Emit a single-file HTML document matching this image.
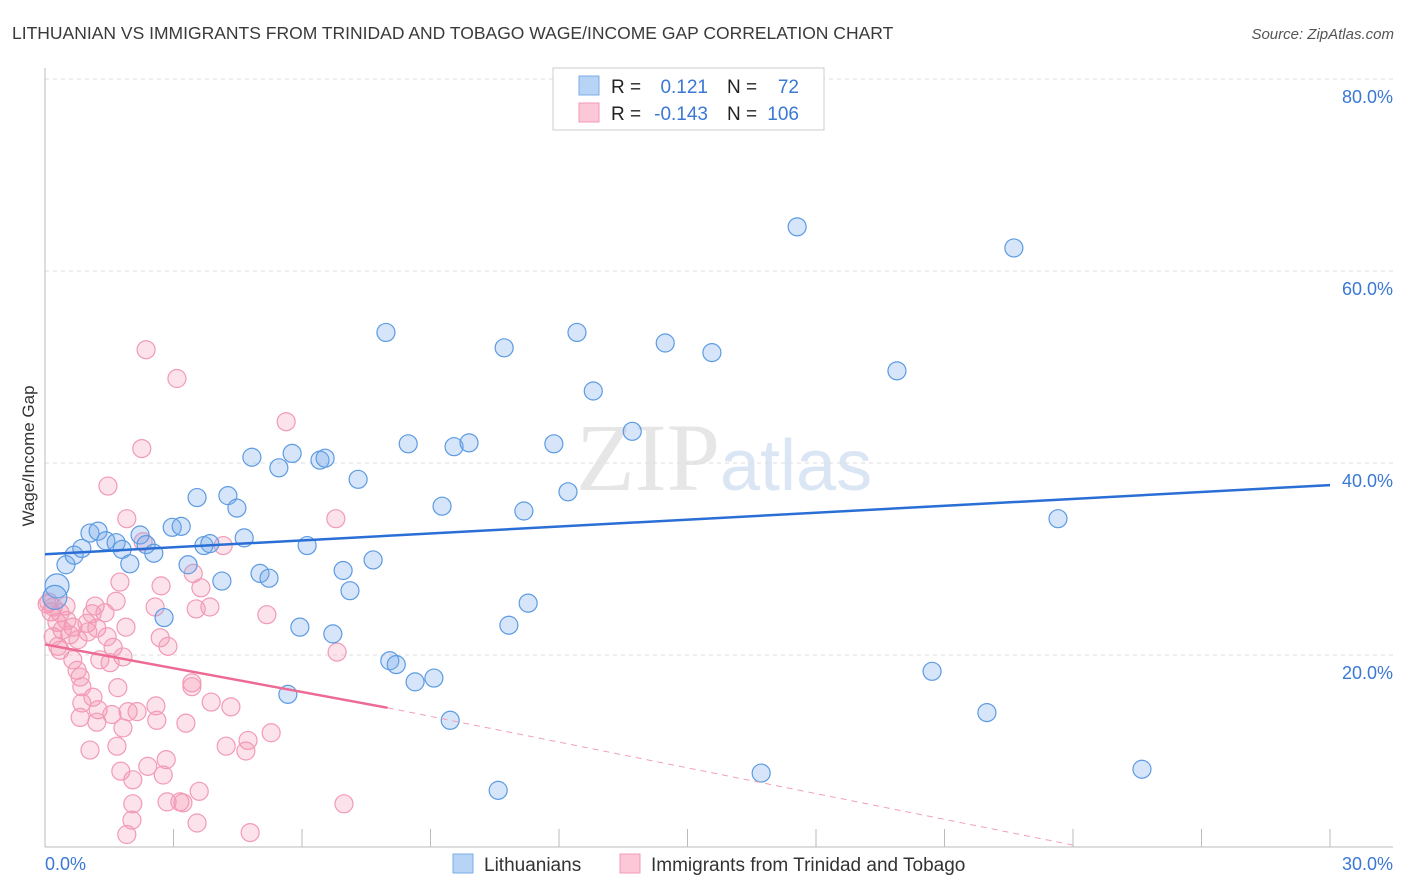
<!DOCTYPE html>
<html><head><meta charset="utf-8"><style>
body{margin:0;background:#fff;font-family:"Liberation Sans",sans-serif;}
#c{position:relative;width:1406px;height:892px;overflow:hidden}
</style></head><body><div id="c">
<svg id="s" width="1406" height="892">
<text x="12" y="39" font-size="17.5" fill="#3a3a3a">LITHUANIAN VS IMMIGRANTS FROM TRINIDAD AND TOBAGO WAGE/INCOME GAP CORRELATION CHART</text>
<text x="1394" y="39" font-size="15" fill="#555" font-style="italic" text-anchor="end">Source: ZipAtlas.com</text>
<text x="720" y="490" font-size="96" fill="#e6e6e6" text-anchor="end" font-family="Liberation Serif">ZIP</text>
<text x="720" y="490" font-size="72" fill="#dbe6f5">atlas</text>
<text transform="translate(34,456) rotate(-90)" font-size="17" fill="#333" text-anchor="middle">Wage/Income Gap</text>
<g id="grid"></g><g id="pts"></g><g id="lines"></g>
<rect x="553" y="68" width="271" height="62" fill="#fff" stroke="#ccc"/>
<rect x="579" y="76" width="20" height="19" fill="#b7d3f5" stroke="#7aaee8"/>
<rect x="579" y="103" width="20" height="19" fill="#fcc8d7" stroke="#f09ab5"/>
<g font-size="19">
<text x="611" y="93" fill="#222">R =</text><text x="708" y="93" fill="#3a78d4" text-anchor="end">0.121</text>
<text x="727" y="93" fill="#222">N =</text><text x="799" y="93" fill="#3a78d4" text-anchor="end">72</text>
<text x="611" y="120" fill="#222">R =</text><text x="708" y="120" fill="#3a78d4" text-anchor="end">-0.143</text>
<text x="727" y="120" fill="#222">N =</text><text x="799" y="120" fill="#3a78d4" text-anchor="end">106</text>
</g>
<rect x="453" y="854" width="20" height="19" fill="#b7d3f5" stroke="#7aaee8"/>
<text x="484" y="871" font-size="19" fill="#333">Lithuanians</text>
<rect x="620" y="854" width="20" height="19" fill="#fcc8d7" stroke="#f09ab5"/>
<text x="651" y="871" font-size="19" fill="#333">Immigrants from Trinidad and Tobago</text>
</svg></div>
<script>
const yTicks=[20,40,60,80];
const yTickLabels=["20.0%","40.0%","60.0%","80.0%"];
const xTicks=[0,3,6,9,12,15,18,21,24,27,30];
const blueX=[0.28,0.23,0.49,0.68,0.86,1.05,1.24,1.42,1.66,1.80,1.98,2.22,2.36,2.54,2.78,2.97,3.18,3.34,3.55,3.71,3.85,4.13,4.27,4.48,4.65,4.83,5.02,5.23,5.46,5.67,5.77,5.95,6.12,6.42,6.54,6.72,6.96,7.12,7.31,7.66,7.96,8.05,8.20,8.48,8.64,9.08,9.27,9.46,9.55,9.90,10.58,10.72,10.83,11.18,11.28,11.88,12.21,12.42,12.80,13.71,14.48,15.57,16.72,17.56,19.89,20.71,21.99,22.62,23.65,25.61];
const blueY=[27.2,26.0,29.4,30.4,31.1,32.7,32.9,31.9,31.7,31.0,29.5,32.5,31.5,30.6,23.9,33.3,33.4,29.4,36.4,31.4,31.6,27.7,36.6,35.3,32.2,40.6,28.5,28.0,39.5,15.9,41.0,22.9,31.4,40.3,40.5,22.2,28.8,26.7,38.3,29.9,53.6,19.4,19.0,42.0,17.2,17.6,35.5,13.2,41.7,42.1,5.9,52.0,23.1,35.0,25.4,42.0,37.0,53.6,47.5,43.3,52.5,51.5,7.7,64.6,49.6,18.3,14.0,62.4,34.2,8.1];
const pinkX=[2.36,3.08,2.26,5.63,1.47,1.91,6.79,2.29,4.16,1.75,2.71,3.46,3.64,2.57,3.53,3.85,5.18,1.66,1.17,1.40,1.89,2.69,2.87,6.82,0.19,0.35,0.51,0.65,0.98,1.21,1.45,1.59,1.82,1.52,1.28,0.35,0.19,0.65,0.75,0.82,0.86,1.70,3.43,3.43,1.12,3.88,4.34,0.86,0.82,1.24,1.21,1.56,1.94,2.15,1.82,2.59,2.61,3.29,5.28,4.74,4.23,4.69,1.05,1.68,1.77,2.05,2.40,2.83,2.76,3.60,2.85,3.15,3.22,2.05,6.98,2.03,3.55,1.91,4.79,0.09,0.14,0.05,0.28,0.40,0.58,1.00,0.30,0.49,0.77,1.10];
const pinkY=[51.8,48.8,41.5,44.3,37.6,34.2,34.2,31.8,31.4,27.6,27.2,28.5,27.0,25.0,24.8,25.0,24.2,25.6,25.1,24.4,22.9,21.8,20.9,20.3,25.0,24.4,23.6,22.9,23.3,22.8,21.9,20.8,19.8,19.2,19.5,20.5,21.9,19.5,18.4,17.7,16.7,16.6,17.1,16.7,15.6,15.1,14.6,15.0,13.5,14.3,13.0,13.8,14.1,14.1,12.4,14.7,13.2,12.9,11.9,11.1,10.5,10.0,10.1,10.5,7.9,7.0,8.4,9.1,7.5,5.8,4.7,4.7,4.6,4.5,4.5,2.8,2.5,1.3,1.5,25.5,24.5,25.3,23.4,22.6,22.1,22.4,20.9,25.1,21.6,24.3];
const blueTrend=[30.5,37.7];
const pinkTrend=[21.1,14.5,0.2];
const pinkTrendX=[0,8,24];
const NS='http://www.w3.org/2000/svg';
const X=v=>45+v*(1330-45)/30, Y=v=>847-v*9.6;
function mk(t,a,p){const e=document.createElementNS(NS,t);for(const k in a)e.setAttribute(k,a[k]);document.getElementById(p).appendChild(e);return e;}
yTicks.forEach((t,i)=>{
 const l=mk('line',{x1:45,x2:1393,y1:Y(t),y2:Y(t),stroke:'#ddd','stroke-dasharray':'4,4'},'grid');
 
 
 const tx=mk('text',{x:1393,y:Y(t)+24,'font-size':18,fill:'#3a78d4','text-anchor':'end'},'grid');
 tx.textContent=yTickLabels[i];
 
 
});
let a=mk('line',{x1:45,x2:45,y1:68,y2:847,stroke:'#bbb'},'grid');


a=mk('line',{x1:45,x2:1393,y1:847,y2:847,stroke:'#bbb'},'grid');


xTicks.forEach(t=>{const l=mk('line',{x1:X(t),x2:X(t),y1:829,y2:847,stroke:'#bbb'},'grid');
 
 });
let t0=mk('text',{x:45,y:870,'font-size':18,fill:'#3a78d4'},'grid');t0.textContent='0.0%';


let t1=mk('text',{x:1393,y:870,'font-size':18,fill:'#3a78d4','text-anchor':'end'},'grid');t1.textContent='30.0%';


pinkX.forEach((x,i)=>{const c=mk('circle',{cx:X(x),cy:Y(pinkY[i]),r:9,fill:'rgba(245,150,180,0.28)',stroke:'#f29ab6','stroke-width':1.2},'pts');
 
 });
blueX.forEach((x,i)=>{const c=mk('circle',{cx:X(x),cy:Y(blueY[i]),r:i<2?12:9,fill:'rgba(120,170,235,0.3)',stroke:'#5c9be2','stroke-width':1.2},'pts');
 
 });
let bl=mk('line',{x1:X(0),y1:Y(blueTrend[0]),x2:X(30),y2:Y(blueTrend[1]),stroke:'#2a6fd6','stroke-width':2.5},'lines');


let pl=mk('line',{x1:X(pinkTrendX[0]),y1:Y(pinkTrend[0]),x2:X(pinkTrendX[1]),y2:Y(pinkTrend[1]),stroke:'#ec6a93','stroke-width':2.5},'lines');


let pd=mk('line',{x1:X(pinkTrendX[1]),y1:Y(pinkTrend[1]),x2:X(pinkTrendX[2]),y2:Y(pinkTrend[2]),stroke:'#f0a0b8','stroke-width':1,'stroke-dasharray':'6,5'},'lines');


</script></body></html>
